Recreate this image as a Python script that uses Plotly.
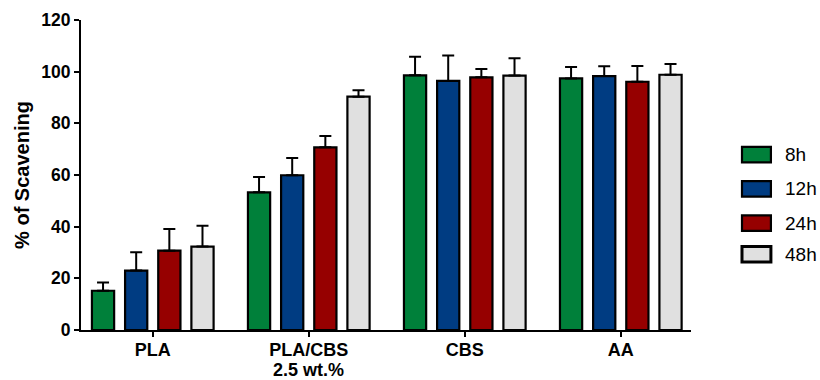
import plotly.graph_objects as go

# Radical scavenging activity by sample and incubation time
categories = ["PLA", "PLA/CBS\n2.5 wt.%", "CBS", "AA"]
series_names = ["8h", "12h", "24h", "48h"]
means = {
    "8h":  [15.2, 53.3, 98.6, 97.4],
    "12h": [23.0, 59.9, 96.4, 98.3],
    "24h": [30.7, 70.7, 97.8, 96.1],
    "48h": [32.3, 90.3, 98.5, 98.8],
}
errors = {
    "8h":  [3.2, 5.9, 7.2, 4.4],
    "12h": [7.1, 6.7, 9.9, 3.8],
    "24h": [8.4, 4.4, 3.2, 6.1],
    "48h": [8.1, 2.5, 6.7, 4.2],
}
colors = {"8h": "#00803A", "12h": "#003C82", "24h": "#960000", "48h": "#E0E0E0"}
y_ticks = [0, 20, 40, 60, 80, 100, 120]

FONT = "Liberation Sans, Arial, sans-serif"

fig = go.Figure()
for name in series_names:
    fig.add_trace(go.Bar(
        name=name,
        x=categories,
        y=means[name],
        marker=dict(color=colors[name], line=dict(color="black", width=2.2)),
        error_y=dict(type="data", symmetric=False, array=errors[name],
                     arrayminus=[0] * len(categories),
                     color="black", thickness=2, width=6),
        showlegend=False,
    ))

# First line of each category name is the tick label; any second line is
# set as its own text just beneath, with tighter line spacing
first_lines = [c.split("\n")[0] for c in categories]
for cat in categories:
    parts = cat.split("\n")
    if len(parts) > 1:
        fig.add_annotation(xref="x", yref="paper", x=cat, y=-0.129,
                           text=parts[1], showarrow=False,
                           xanchor="center", yanchor="middle",
                           font=dict(family=FONT, size=18, color="black",
                                     weight="bold"))

# Legend drawn as outlined swatches with labels beside them
legend_centers = [0.566, 0.455, 0.345, 0.244]
for name, yc in zip(series_names, legend_centers):
    fig.add_shape(type="rect", xref="paper", yref="paper",
                  x0=1.0836, x1=1.131, y0=yc - 0.025, y1=yc + 0.025,
                  fillcolor=colors[name],
                  line=dict(color="black", width=3 if name == "48h" else 2.2))
    fig.add_annotation(xref="paper", yref="paper", x=1.151, y=yc,
                       text=name, showarrow=False, xanchor="left", yanchor="middle",
                       font=dict(family=FONT, size=19, color="black"))

fig.update_layout(
    width=820, height=380,
    margin=dict(l=81, r=129, t=20, b=50),
    paper_bgcolor="white", plot_bgcolor="white",
    barmode="group", bargap=0.15, bargroupgap=0.33,
    font=dict(family=FONT, color="black"),
    xaxis=dict(
        range=[-0.46, 3.45], automargin=False,
        tickvals=categories, ticktext=first_lines,
        showline=True, linecolor="black", linewidth=2,
        ticks="outside", ticklen=5, tickwidth=2, tickcolor="black",
        ticklabelstandoff=-3,
        tickfont=dict(family=FONT, size=18, color="black", weight="bold"),
        showgrid=False, zeroline=False,
    ),
    yaxis=dict(
        range=[0, 120], tickvals=y_ticks, automargin=False,
        showline=True, linecolor="black", linewidth=2,
        ticks="outside", ticklen=5, tickwidth=2, tickcolor="black",
        tickfont=dict(family=FONT, size=17.5, color="black", weight="bold"),
        showgrid=False, zeroline=False,
        title=dict(text="% of Scavening", standoff=6,
                   font=dict(family=FONT, size=20, color="black", weight="bold")),
    ),
)

fig.write_html("out.html")
